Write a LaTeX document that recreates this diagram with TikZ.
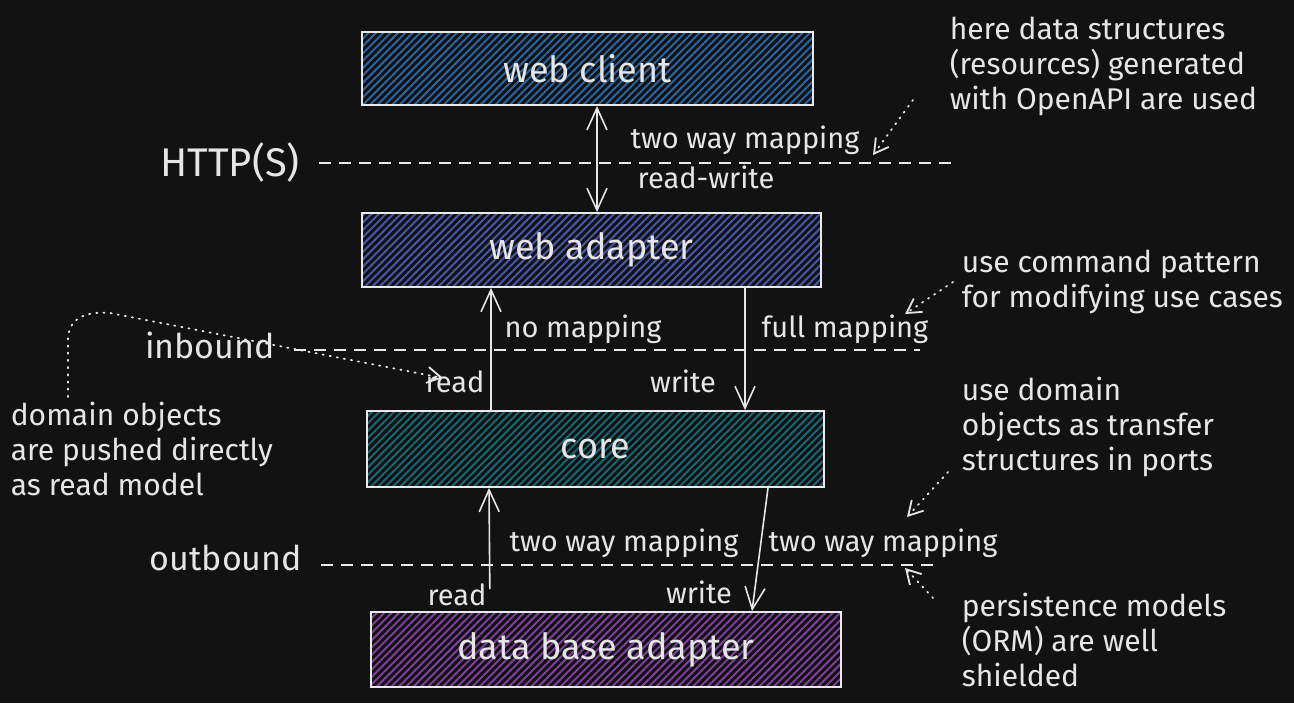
\documentclass[tikz,border=0pt]{standalone}
\usepackage{fontspec}
\setmainfont{Fira Sans}
\usepackage{xcolor}
\usetikzlibrary{arrows.meta,patterns.meta,positioning}

\definecolor{canvas}{HTML}{121212}
\definecolor{ink}{HTML}{E6E6E6}
\definecolor{clientblue}{HTML}{2A65A0}
\definecolor{adapterblue}{HTML}{4658A8}
\definecolor{coreteal}{HTML}{1A6674}
\definecolor{dbpurple}{HTML}{7E409C}

\begin{document}
\begin{tikzpicture}[x=0.5pt,y=-0.5pt,>={Straight Barb[length=11pt,width=10pt]},
                    draw=ink,text=ink,line width=0.8pt]
  \tikzstyle{layerbox}=[draw=ink!85,line width=0.9pt,
                        pattern={Lines[angle=45,distance=2.6pt,line width=1pt]},
                        font=\fontsize{18}{21}\selectfont]
  \tikzstyle{sidelabel}=[font=\fontsize{17}{20}\selectfont,anchor=base]
  \tikzstyle{flowlabel}=[font=\fontsize{14.5}{18}\selectfont,anchor=base]
  \tikzstyle{notetext}=[font=\fontsize{15}{17.5}\selectfont,align=left,
                        anchor=north west,inner sep=0pt]
  \tikzstyle{boundaryline}=[dash pattern=on 6pt off 4pt,line width=0.7pt,draw=ink!85]
  \tikzstyle{hintline}=[-{Straight Barb[length=7pt,width=8pt]},
                        dash pattern=on 0.6pt off 3pt,line cap=round,line width=0.9pt]

  \fill[canvas] (0,0) rectangle (1294,703);

  % layers
  \node[layerbox,pattern color=clientblue,minimum width=225.5pt,minimum height=36.5pt]
        (client)  at (587.5,68.5) {web client};
  \node[layerbox,pattern color=adapterblue,minimum width=229.5pt,minimum height=37pt]
        (adapter) at (591.5,250)  {web adapter};
  \node[layerbox,pattern color=coreteal,minimum width=228.5pt,minimum height=38pt]
        (core)    at (595.5,449)  {core};
  \node[layerbox,pattern color=dbpurple,minimum width=235pt,minimum height=37.5pt]
        (db)      at (606,649.5)  {data base adapter};

  % boundaries
  \node[sidelabel,font=\fontsize{20}{24}\selectfont] (http) at (230,176) {HTTP(S)};
  \node[sidelabel] (inbound)  at (210,358) {inbound};
  \node[sidelabel] (outbound) at (226,570) {outbound};
  \coordinate (httpEnd)     at (955,163);
  \coordinate (inboundEnd)  at (920,350);
  \coordinate (outboundEnd) at (935,565);
  \draw[boundaryline,shorten <=6pt] (http.east |- httpEnd) -- (httpEnd);
  \draw[boundaryline,shorten <=6pt] (inbound.east |- inboundEnd) -- (inboundEnd);
  \draw[boundaryline,shorten <=6pt] (outbound.east |- outboundEnd) -- (outboundEnd);

  % flows
  \draw[<->] ([xshift=4.75pt]client.south) -- ([xshift=2.75pt]adapter.north);
  \draw[->] ([xshift=-52.25pt]core.north) -- ([xshift=-50.25pt]adapter.south);
  \draw[->] ([xshift=76.75pt]adapter.south) -- ([xshift=74.75pt]core.north);
  \draw[->,shorten <=11pt] ([xshift=-58pt]db.north) -- ([xshift=-53.25pt]core.south);
  \draw[->] ([xshift=86.25pt]core.south) -- ([xshift=73pt]db.north);

  \node[flowlabel] (twoWayTop) at (745,148) {two way mapping};
  \node[flowlabel] (readWrite) at (706,188) {read-write};
  \node[flowlabel] (noMap)     at (583,337) {no mapping};
  \node[flowlabel] (fullMap)   at (845,337) {full mapping};
  \node[flowlabel] (readUp)    at (455,392) {read};
  \node[flowlabel] (writeUp)   at (683,392) {write};
  \node[flowlabel] (twoWayL)   at (624,551) {two way mapping};
  \node[flowlabel] (twoWayR)   at (883,551) {two way mapping};
  \node[flowlabel] (readDown)  at (457,605) {read};
  \node[flowlabel] (writeDown) at (699,603) {write};

  % notes
  \node[notetext] (apiNote)  at (949,16)  {here data structures\\(resources) generated\\with OpenAPI are used};
  \node[notetext] (cmdNote)  at (961,249) {use command pattern\\for modifying use cases};
  \node[notetext] (portNote) at (961,376) {use domain\\objects as transfer\\structures in ports};
  \node[notetext] (ormNote)  at (961,592) {persistence models\\(ORM) are well\\shielded};
  \node[notetext] (readNote) at (10,401)  {domain objects\\are pushed directly\\as read model};

  \coordinate (apiTail)  at (913,100);
  \coordinate (apiTip)   at (873,155);
  \coordinate (cmdTail)  at (953,282);
  \coordinate (cmdTip)   at (905,314);
  \coordinate (portTail) at (948,472);
  \coordinate (portTip)  at (907,517);
  \coordinate (ormTail)  at (933,598);
  \coordinate (ormTip)   at (905,568);
  \coordinate (readTail) at (68,397);
  \coordinate (readTip)  at (443,378);
  \draw[hintline] (apiTail) -- (apiTip);
  \draw[hintline] (cmdTail) -- (cmdTip);
  \draw[hintline] (portTail) -- (portTip);
  \draw[hintline] (ormTail) -- (ormTip);
  \draw[hintline] (readTail) -- (68,345) .. controls (66,318) and (85,311) .. (110,313) -- (readTip);
\end{tikzpicture}
\end{document}
